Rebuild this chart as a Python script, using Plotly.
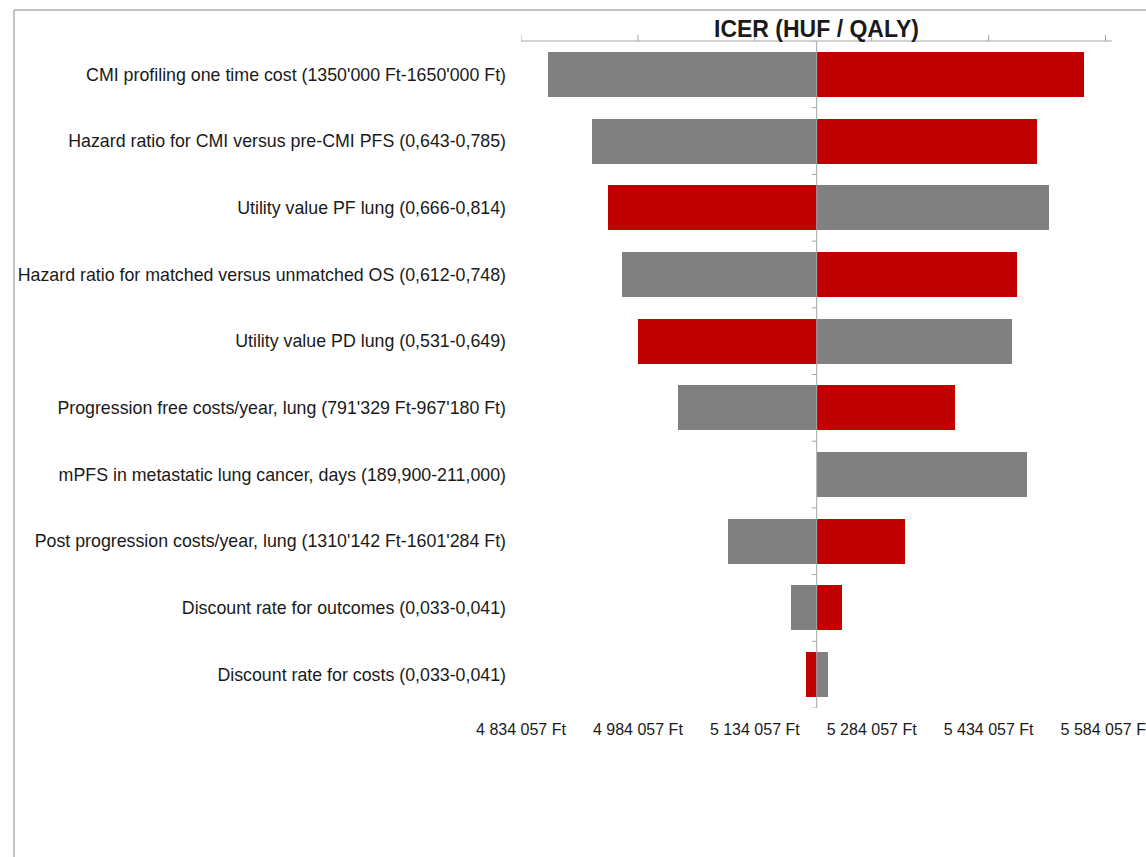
import plotly.graph_objects as go

# One-way sensitivity analysis: ICER at each end of the parameter range
parameters = [
    "CMI profiling one time cost (1350'000 Ft-1650'000 Ft)",
    "Hazard ratio for CMI versus pre-CMI PFS (0,643-0,785)",
    "Utility value PF lung (0,666-0,814)",
    "Hazard ratio for matched versus unmatched OS (0,612-0,748)",
    "Utility value PD lung (0,531-0,649)",
    "Progression free costs/year, lung (791'329 Ft-967'180 Ft)",
    "mPFS in metastatic lung cancer, days (189,900-211,000)",
    "Post progression costs/year, lung (1310'142 Ft-1601'284 Ft)",
    "Discount rate for outcomes (0,033-0,041)",
    "Discount rate for costs (0,033-0,041)",
]
icer_gray = [4869087, 4925546, 5511175, 4963270, 5464469,
             5035512, 5482946, 5099669, 5180123, 5227342]
icer_red = [5556855, 5495778, 4945691, 5470885, 4984186,
            5390559, 5213484, 5326402, 5245948, 5199370]
BASE_ICER = 5213484

tick_values = [4834057, 4984057, 5134057, 5284057, 5434057, 5584057]
tick_labels = ["4 834 057 Ft", "4 984 057 Ft", "5 134 057 Ft",
               "5 284 057 Ft", "5 434 057 Ft", "5 584 057 Ft"]
X_RANGE = [4834057, 5592400]

GRAY = "#808080"
RED = "#C00000"
AXIS = "#A6A6A6"
TEXT = "#1a1a1a"
FONT = "Liberation Sans, Arial, sans-serif"

W, H = 1146, 857
L, R, T, B = 521, 34, 41, 149
PW, PH = W - L - R, H - T - B


def px_x(px):
    return (px - L) / PW


def px_y(py):
    return (H - B - py) / PH


y_pos = list(range(len(parameters)))

fig = go.Figure()
fig.add_trace(go.Bar(
    y=y_pos, x=[v - BASE_ICER for v in icer_gray], base=BASE_ICER,
    orientation="h", marker=dict(color=GRAY, line=dict(width=0)),
    width=0.675, name="gray", showlegend=False,
))
fig.add_trace(go.Bar(
    y=y_pos, x=[v - BASE_ICER for v in icer_red], base=BASE_ICER,
    orientation="h", marker=dict(color=RED, line=dict(width=0)),
    width=0.675, name="red", showlegend=False,
))

shapes = []
# top axis line with outward tick marks
shapes.append(dict(type="line", xref="paper", yref="paper", x0=0, x1=1, y0=1, y1=1,
                   line=dict(color=AXIS, width=1)))
for tv in tick_values:
    shapes.append(dict(type="line", xref="x", yref="paper", ysizemode="pixel",
                       yanchor=1, x0=tv, x1=tv, y0=0, y1=6,
                       line=dict(color=AXIS, width=1)))
# vertical axis through the base-case ICER, ticks between categories
shapes.append(dict(type="line", xref="x", yref="paper", x0=BASE_ICER, x1=BASE_ICER,
                   y0=0, y1=1, line=dict(color=AXIS, width=1)))
for k in range(len(parameters) + 1):
    shapes.append(dict(type="line", xref="x", yref="y", xsizemode="pixel",
                       xanchor=BASE_ICER, x0=-5, x1=0, y0=k - 0.5, y1=k - 0.5,
                       line=dict(color=AXIS, width=1)))
# chart frame
shapes.append(dict(type="line", xref="paper", yref="paper",
                   x0=px_x(14), x1=px_x(W + 5), y0=px_y(10), y1=px_y(10),
                   line=dict(color="#B0B0B0", width=1.5)))
shapes.append(dict(type="line", xref="paper", yref="paper",
                   x0=px_x(14), x1=px_x(14), y0=px_y(10), y1=px_y(H + 5),
                   line=dict(color="#B0B0B0", width=1.5)))

fig.update_layout(
    width=W, height=H,
    margin=dict(l=L, r=R, t=T, b=B, pad=0, autoexpand=False),
    paper_bgcolor="white", plot_bgcolor="white",
    barmode="overlay", bargap=0,
    font=dict(family=FONT, size=16, color=TEXT),
    shapes=shapes,
    xaxis=dict(range=X_RANGE, tickvals=tick_values, ticktext=tick_labels,
               showgrid=False, zeroline=False, showline=False, ticks="",
               ticklabelstandoff=10, ticklabeloverflow="allow", automargin=False,
               tickfont=dict(size=16, color=TEXT), fixedrange=True),
    yaxis=dict(range=[len(parameters) - 0.5, -0.5], tickvals=y_pos, ticktext=parameters,
               showgrid=False, zeroline=False, showline=False, ticks="", automargin=False,
               ticklabelstandoff=14, tickfont=dict(size=17.8, color=TEXT), fixedrange=True),
    annotations=[dict(
        text="<b>ICER (HUF / QALY)</b>", xref="paper", yref="paper",
        x=0.5, y=1, xanchor="center", yanchor="bottom", yshift=-3, showarrow=False,
        font=dict(family=FONT, size=23, color=TEXT),
    )],
)

fig.write_html("out.html")
